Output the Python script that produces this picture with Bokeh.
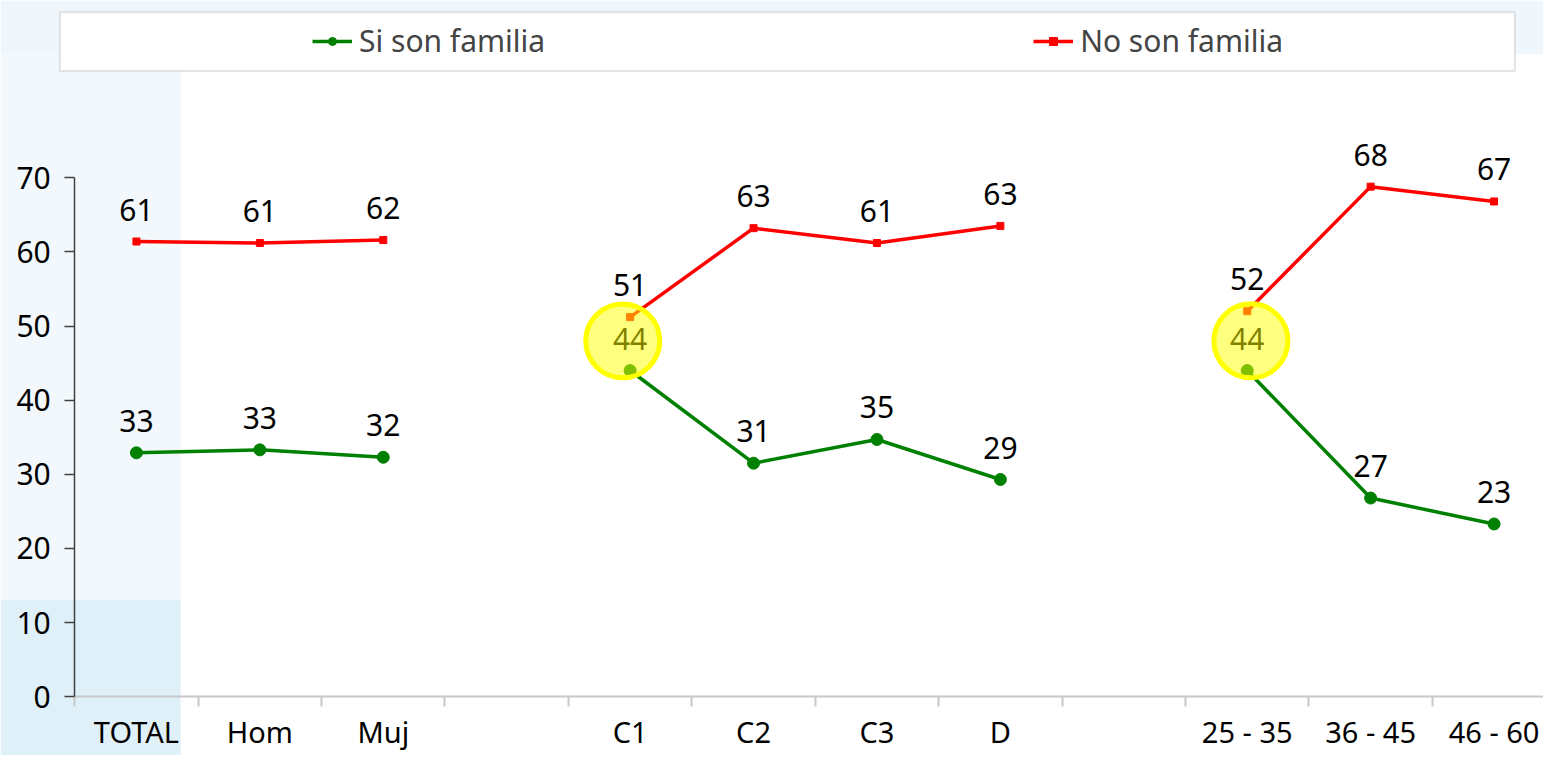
import math
from bokeh.plotting import figure
from bokeh.models import (FixedTicker, LinearAxis, Legend, LegendItem, BoxAnnotation,
                          ColumnDataSource, Range1d)
from bokeh.core.properties import value
from bokeh.embed import file_html
from bokeh.resources import INLINE

NaN = float("nan")

# ---- data ----
categories = ["TOTAL", "Hom", "Muj", "", "C1", "C2", "C3", "D", "", "25 - 35", "36 - 45", "46 - 60"]
si_values = [32.9, 33.3, 32.3, NaN, 44.0, 31.5, 34.7, 29.3, NaN, 44.0, 26.8, 23.3]
no_values = [61.4, 61.2, 61.6, NaN, 51.2, 63.2, 61.2, 63.5, NaN, 52.0, 68.8, 66.8]
si_labels = ["33", "33", "32", "", "44", "31", "35", "29", "", "44", "27", "23"]
no_labels = ["61", "61", "62", "", "51", "63", "61", "63", "", "52", "68", "67"]
y_ticks = [0, 10, 20, 30, 40, 50, 60, 70]
series_names = ["Si son familia", "No son familia"]
highlight_x = [4.44, 9.53]
highlight_y = [48, 48]

# ---- geometry (reference pixels -> figure pixels -> data) ----
W, H = 1543, 755
SX, SY = W / 1559.0, H / 771.0
PX_X = 124.7 * SX          # px per category
PX_Y = 530 / 70.0 * SY     # px per unit
X0 = 75 * SX               # figure x of category boundary 0
Y0 = 711 * SY              # figure y of value 0
x_start = -X0 / PX_X
x_end = x_start + W / PX_X
y_end = Y0 / PX_Y
y_start = y_end - H / PX_Y

def px_x(ref_x):
    return x_start + ref_x * SX / PX_X

def px_y(ref_y):
    return y_end - ref_y * SY / PX_Y

FONT = "Noto Sans"
FS = "30px"

p = figure(width=W, height=H, output_backend="svg", toolbar_location=None,
           x_range=Range1d(x_start, x_end), y_range=Range1d(y_start, y_end),
           x_axis_type=None, y_axis_type=None,
           min_border_left=0, min_border_right=0, min_border_top=0, min_border_bottom=0)
p.outline_line_color = None
p.xgrid.visible = False
p.ygrid.visible = False
p.background_fill_color = "white"
p.border_fill_color = "white"

# background decoration
p.add_layout(BoxAnnotation(bottom=px_y(55), fill_color="#eff6fc", fill_alpha=1,
                           line_color=None, level="underlay"))
p.add_layout(BoxAnnotation(right=px_x(182), bottom=px_y(612), top=px_y(55), fill_color="#f2f8fc",
                           fill_alpha=1, line_color=None, level="underlay"))
p.add_layout(BoxAnnotation(right=px_x(182), top=px_y(612), fill_color="#dff0f8",
                           fill_alpha=1, line_color=None, level="underlay"))
# legend frame
p.add_layout(BoxAnnotation(left=px_x(60), right=px_x(1530), top=px_y(12), bottom=px_y(72),
                           fill_color="white", fill_alpha=1, line_color="#a6a6a6",
                           line_width=2, level="underlay"))

xs = [i + 0.5 for i in range(len(categories))]
src = ColumnDataSource(dict(x=xs, si=si_values, no=no_values, si_lab=si_labels, no_lab=no_labels))

GREEN = "#008000"
RED = "#ff0000"

g_line = p.line("x", "si", source=src, line_color=GREEN, line_width=3.5)
g_pts = p.scatter("x", "si", source=src, marker="circle", size=12, fill_color=GREEN, line_color=GREEN)
r_line = p.line("x", "no", source=src, line_color=RED, line_width=3.5)
r_pts = p.scatter("x", "no", source=src, marker="square", size=7, fill_color=RED, line_color=RED)

for col, lab in (("si", "si_lab"), ("no", "no_lab")):
    p.text("x", col, text=lab, source=src, text_align="center", text_baseline="middle",
           y_offset=-32, text_font=value(FONT), text_font_size=FS, text_color="black")

# highlight circles
p.scatter(highlight_x, highlight_y, marker="circle", size=74, fill_color="#ffff00",
          fill_alpha=0.5, line_color="#ffff00", line_width=5)

# axes
label_pos = [x for x, c in zip(xs, categories) if c]
xaxis = LinearAxis(fixed_location=0,
                   ticker=FixedTicker(ticks=label_pos, minor_ticks=list(range(0, 13))),
                   major_label_overrides={x: c for x, c in zip(xs, categories) if c},
                   bounds=(0, 13),
                   axis_line_color="#c8c8c8", axis_line_width=2,
                   major_tick_out=0, major_tick_in=0,
                   minor_tick_out=10, minor_tick_in=0,
                   minor_tick_line_color="#c8c8c8", minor_tick_line_width=2,
                   major_label_standoff=5,
                   major_label_text_font=FONT, major_label_text_font_size="29px",
                   major_label_text_color="black")
p.add_layout(xaxis, "below")

yaxis = LinearAxis(fixed_location=0,
                   ticker=FixedTicker(ticks=y_ticks),
                   bounds=(0, 70),
                   axis_line_color="#404040", axis_line_width=1.5,
                   major_tick_out=10, major_tick_in=0,
                   major_tick_line_color="#404040", major_tick_line_width=1.5,
                   minor_tick_out=0, minor_tick_in=0,
                   major_label_standoff=14,
                   major_label_text_font=FONT, major_label_text_font_size=FS,
                   major_label_text_color="black")
p.add_layout(yaxis, "left")

legend = Legend(items=[LegendItem(label=series_names[0], renderers=[g_line, g_pts]),
                       LegendItem(label=series_names[1], renderers=[r_line, r_pts])],
                orientation="horizontal", location=(312, 694), spacing=488,
                glyph_width=40, glyph_height=20, label_standoff=7, padding=0, margin=0,
                border_line_alpha=0, background_fill_alpha=0,
                label_text_font=FONT, label_text_font_size=FS)
p.add_layout(legend)

open("out.html", "w").write(file_html(p, INLINE))
